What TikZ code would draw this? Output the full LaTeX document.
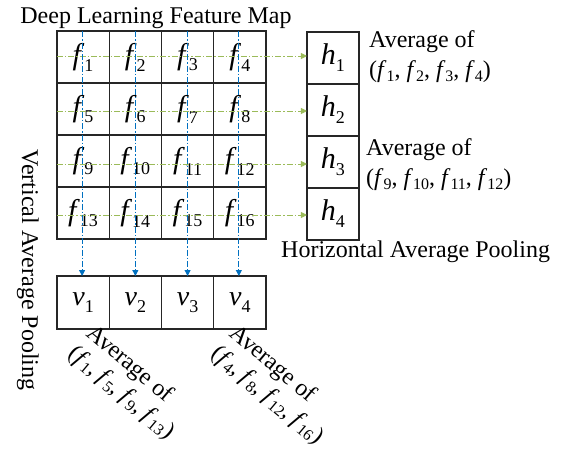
\documentclass[tikz,border=0pt]{standalone}
\usepackage{fontspec}
\setmainfont{Liberation Serif}
\usetikzlibrary{arrows.meta, positioning}
\definecolor{poolblue}{RGB}{0,112,192}
\definecolor{poolgreen}{RGB}{155,187,89}
\newcommand{\sym}[2]{\textit{#1}\raisebox{-0.23em}{\fontsize{18}{18}\selectfont #2}}
\newcommand{\ssym}[2]{\textit{#1}\raisebox{-0.15em}{\fontsize{16}{16}\selectfont #2}}
\tikzset{
  cell/.style={rectangle, draw=black!85, line width=1.1pt, minimum width=52.25pt,
    minimum height=52pt, inner sep=0pt, outer sep=0pt, font=\fontsize{30}{30}\selectfont},
  hcell/.style={cell, minimum width=52pt},
  vcell/.style={cell, minimum height=53pt, font=\fontsize{28}{28}\selectfont},
  note/.style={font=\fontsize{24}{30}\selectfont, inner sep=0pt, align=left},
  slantnote/.style={note, font=\fontsize{24}{27}\selectfont, anchor=north west, rotate=-40},
  varrow/.style={-{Triangle[length=6pt,width=6pt]}, poolblue, line width=1pt,
    dash pattern=on 6pt off 2pt on 1.5pt off 2pt},
  harrow/.style={-{Triangle[length=6pt,width=6pt]}, poolgreen, line width=1pt,
    dash pattern=on 6pt off 2pt on 1.5pt off 2pt},
}
\begin{document}
\begin{tikzpicture}[x=1pt, y=-1pt]
  \useasboundingbox (0,0) rectangle (564,453);
  % feature map
  \node[cell]                  (f1)  at (83.1,57) {\sym{f}{1}};
  \node[cell, right=0pt of f1] (f2)  {\sym{f}{2}};
  \node[cell, right=0pt of f2] (f3)  {\sym{f}{3}};
  \node[cell, right=0pt of f3] (f4)  {\sym{f}{4}};
  \node[cell, below=0pt of f1] (f5)  {\sym{f}{5}};
  \node[cell, right=0pt of f5] (f6)  {\sym{f}{6}};
  \node[cell, right=0pt of f6] (f7)  {\sym{f}{7}};
  \node[cell, right=0pt of f7] (f8)  {\sym{f}{8}};
  \node[cell, below=0pt of f5] (f9)  {\sym{f}{9}};
  \node[cell, right=0pt of f9] (f10) {\sym{f}{10}};
  \node[cell, right=0pt of f10](f11) {\sym{f}{11}};
  \node[cell, right=0pt of f11](f12) {\sym{f}{12}};
  \node[cell, below=0pt of f9] (f13) {\sym{f}{13}};
  \node[cell, right=0pt of f13](f14) {\sym{f}{14}};
  \node[cell, right=0pt of f14](f15) {\sym{f}{15}};
  \node[cell, right=0pt of f15](f16) {\sym{f}{16}};
  % horizontal pooling
  \node[hcell, right=41pt of f4, yshift=-1pt] (h1) {\sym{h}{1}};
  \node[hcell, below=0pt of h1] (h2) {\sym{h}{2}};
  \node[hcell, below=0pt of h2] (h3) {\sym{h}{3}};
  \node[hcell, below=0pt of h3] (h4) {\sym{h}{4}};
  % vertical pooling
  \node[vcell, below=37pt of f13] (v1) {\sym{v}{1}};
  \node[vcell, right=0pt of v1]   (v2) {\sym{v}{2}};
  \node[vcell, right=0pt of v2]   (v3) {\sym{v}{3}};
  \node[vcell, right=0pt of v3]   (v4) {\sym{v}{4}};

  \draw[harrow] ([yshift=1pt]f1.west)  -- ([yshift=1pt]f1.west -| h1.west);
  \draw[harrow] ([yshift=-2pt]f5.west) -- ([yshift=-2pt]f5.west -| h2.west);
  \draw[harrow] ([yshift=-3pt]f9.west) -- ([yshift=-3pt]f9.west -| h3.west);
  \draw[harrow] ([yshift=-2pt]f13.west)-- ([yshift=-2pt]f13.west -| h4.west);
  \draw[varrow] ([xshift=-1pt]f1.north) -- ([xshift=-1pt]f1.north |- v1.north);
  \draw[varrow] (f2.north) -- (f2.north |- v2.north);
  \draw[varrow] (f3.north) -- (f3.north |- v3.north);
  \draw[varrow] ([xshift=-1pt]f4.north) -- ([xshift=-1pt]f4.north |- v4.north);

  % labels
  \node[note, anchor=base] (title) at (156,23) {Deep Learning Feature Map};
  \node[note, anchor=north west] (avgrow1) at (369,30.6)
    {Average of\\(\ssym{f}{1},\ \ssym{f}{2},\ \ssym{f}{3},\ \ssym{f}{4})};
  \node[note, anchor=north west] (avgrow3) at (366,138.6)
    {Average of\\(\ssym{f}{9},\ \ssym{f}{10},\ \ssym{f}{11},\ \ssym{f}{12})};
  \node[note, anchor=base west] (hpool) at (281,257) {Horizontal Average Pooling};
  \node[note, anchor=base, rotate=-90] (vpool) at (22,270) {Vertical Average Pooling};
  \node[slantnote] (avgcol1) at (96,322)
    {Average of\\(\ssym{f}{1}, \ssym{f}{5}, \ssym{f}{9}, \ssym{f}{13})};
  \node[slantnote] (avgcol4) at (239,322)
    {Average of\\(\ssym{f}{4}, \ssym{f}{8}, \ssym{f}{12}, \ssym{f}{16})};
\end{tikzpicture}
\end{document}
